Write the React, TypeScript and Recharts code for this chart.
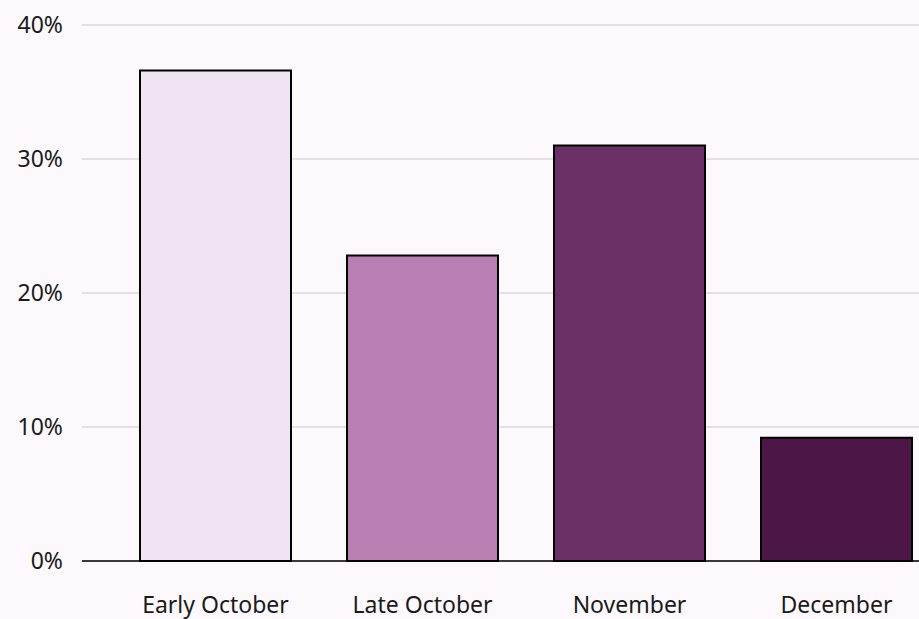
import { Bar, BarChart, CartesianGrid, Cell, XAxis, YAxis } from "recharts";

const periods = ["Early October", "Late October", "November", "December"];
const shares = [36.6, 22.8, 31.0, 9.2];
const barColors = ["#f0e4f2", "#b97fb3", "#6b3066", "#4c1746"];
const yTicks = [0, 10, 20, 30, 40];

const data = periods.map((name, i) => ({ name, value: shares[i] }));

export default function App() {
  return (
    <div
      style={{
        position: "fixed",
        left: 0,
        top: 0,
        width: 919,
        height: 619,
        overflow: "hidden",
        background: "#fcf8fc",
        fontFamily: "'Noto Sans', sans-serif",
      }}
    >
      <BarChart
        width={940}
        height={619}
        data={data}
        margin={{ top: 25, right: 0, bottom: 0, left: 0 }}
        barSize={151}
      >
        <CartesianGrid vertical={false} stroke="#dcdadf" strokeWidth={1.5} />
        <XAxis
          dataKey="name"
          padding={{ left: 30, right: 0 }}
          axisLine={{ stroke: "#000", strokeWidth: 1.5 }}
          tickLine={false}
          tickSize={0}
          tickMargin={36}
          height={58}
          tick={{ fill: "#1a1a1a", fontSize: 23 }}
        />
        <YAxis
          domain={[0, 40]}
          ticks={yTicks}
          width={82}
          axisLine={false}
          tickLine={false}
          tickSize={0}
          tickMargin={19}
          tickFormatter={(v) => `${v}%`}
          tick={{ fill: "#1a1a1a", fontSize: 23 }}
        />
        <Bar dataKey="value" stroke="#000" strokeWidth={2} isAnimationActive={false}>
          {data.map((d, i) => (
            <Cell key={d.name} fill={barColors[i]} />
          ))}
        </Bar>
      </BarChart>
    </div>
  );
}
